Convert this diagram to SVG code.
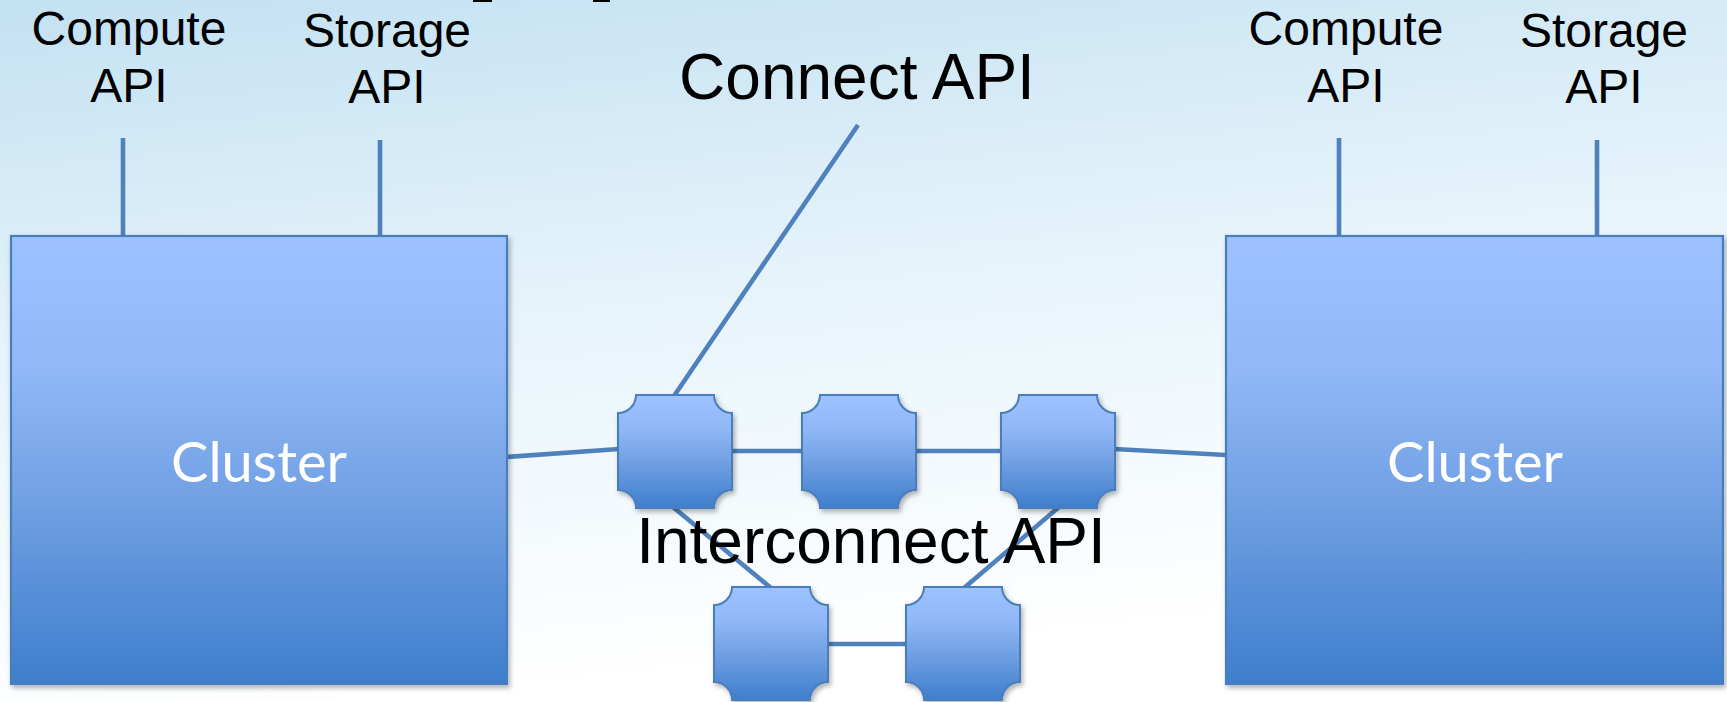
<svg xmlns="http://www.w3.org/2000/svg" xmlns:xlink="http://www.w3.org/1999/xlink" width="1727" height="702" viewBox="0 0 1727 702">
  <defs>
    <linearGradient id="bg" x1="0" y1="0" x2="0.25" y2="1">
      <stop offset="0" stop-color="#c3e1f2"/>
      <stop offset="0.5" stop-color="#e7f4fb"/>
      <stop offset="1" stop-color="#ffffff"/>
    </linearGradient>
    <linearGradient id="boxFill" x1="0" y1="0" x2="0" y2="1">
      <stop offset="0" stop-color="#9dc2ff"/>
      <stop offset="0.3" stop-color="#90b8f6"/>
      <stop offset="0.65" stop-color="#6a9be0"/>
      <stop offset="1" stop-color="#3e7ecc"/>
    </linearGradient>
    <filter id="shadow" x="-10%" y="-10%" width="125%" height="125%">
      <feDropShadow dx="2" dy="3" stdDeviation="2.5" flood-color="#000" flood-opacity="0.3"/>
    </filter>
    <!-- switch outline: square with concave quarter-round corners -->
    <path id="sw" d="M18,0 H96 A18,18 0 0 0 114,18 V95 A18,18 0 0 0 96,113 H18 A18,18 0 0 0 0,95 V18 A18,18 0 0 0 18,0 Z"/>
  </defs>
  <style>
    .link { stroke: #4f81bd; stroke-width: 4.6; fill: none; stroke-linecap: butt; }
    .cluster { fill: url(#boxFill); stroke: #4a7ebb; stroke-width: 2.2; filter: url(#shadow); }
    .switch { fill: url(#boxFill); stroke: #4a7ebb; stroke-width: 2; filter: url(#shadow); }
    .api { font-family: "Liberation Sans", Arial, sans-serif; font-size: 48px; fill: #000; text-anchor: middle; }
    .big { font-family: "Liberation Sans", Arial, sans-serif; font-size: 64px; fill: #000; text-anchor: middle; }
    .clabel { font-family: Lato, "Open Sans", sans-serif; font-size: 56px; fill: #fff; text-anchor: middle; }
  </style>

  <rect x="0" y="0" width="1727" height="702" fill="url(#bg)"/>

  <!-- clipped title marks along the top edge -->
  <rect x="473" y="0" width="19" height="2" fill="#000"/>
  <rect x="593" y="0" width="17" height="2" fill="#000"/>

  <g id="connectors">
    <line class="link" x1="123" y1="138" x2="123" y2="236"/>
    <line class="link" x1="380" y1="140" x2="380" y2="236"/>
    <line class="link" x1="1339" y1="138" x2="1339" y2="236"/>
    <line class="link" x1="1597" y1="140" x2="1597" y2="236"/>
    <line class="link" x1="858" y1="125" x2="674" y2="396"/>
    <line class="link" x1="507" y1="457" x2="619" y2="449"/>
    <line class="link" x1="731" y1="451" x2="803" y2="451"/>
    <line class="link" x1="915" y1="451" x2="1002" y2="451"/>
    <line class="link" x1="1114" y1="449" x2="1226" y2="455"/>
    <line class="link" x1="673" y1="507" x2="771" y2="588"/>
    <line class="link" x1="1059" y1="507" x2="964" y2="588"/>
    <line class="link" x1="826" y1="644" x2="907" y2="644"/>
  </g>

  <g id="cluster-left">
    <rect class="cluster" x="11" y="236" width="496" height="448"/>
    <text class="clabel" x="259" y="482">Cluster</text>
  </g>
  <g id="cluster-right">
    <rect class="cluster" x="1226" y="236" width="497" height="448"/>
    <text class="clabel" x="1475" y="482">Cluster</text>
  </g>

  <g id="switch-1"><use class="switch" href="#sw" xlink:href="#sw" transform="translate(618,395)"/></g>
  <g id="switch-2"><use class="switch" href="#sw" xlink:href="#sw" transform="translate(802,395)"/></g>
  <g id="switch-3"><use class="switch" href="#sw" xlink:href="#sw" transform="translate(1001,395)"/></g>
  <g id="switch-4"><use class="switch" href="#sw" xlink:href="#sw" transform="translate(714,587)"/></g>
  <g id="switch-5"><use class="switch" href="#sw" xlink:href="#sw" transform="translate(906,587)"/></g>

  <g id="compute-api-left">
    <text class="api" x="129" y="45">Compute</text>
    <text class="api" x="129" y="102">API</text>
  </g>
  <g id="storage-api-left">
    <text class="api" x="387" y="47">Storage</text>
    <text class="api" x="387" y="103">API</text>
  </g>
  <g id="compute-api-right">
    <text class="api" x="1346" y="45">Compute</text>
    <text class="api" x="1346" y="102">API</text>
  </g>
  <g id="storage-api-right">
    <text class="api" x="1604" y="47">Storage</text>
    <text class="api" x="1604" y="103">API</text>
  </g>
  <g id="connect-api">
    <text class="big" x="857" y="99">Connect API</text>
  </g>
  <g id="interconnect-api">
    <text class="big" x="871" y="563">Interconnect API</text>
  </g>
</svg>
